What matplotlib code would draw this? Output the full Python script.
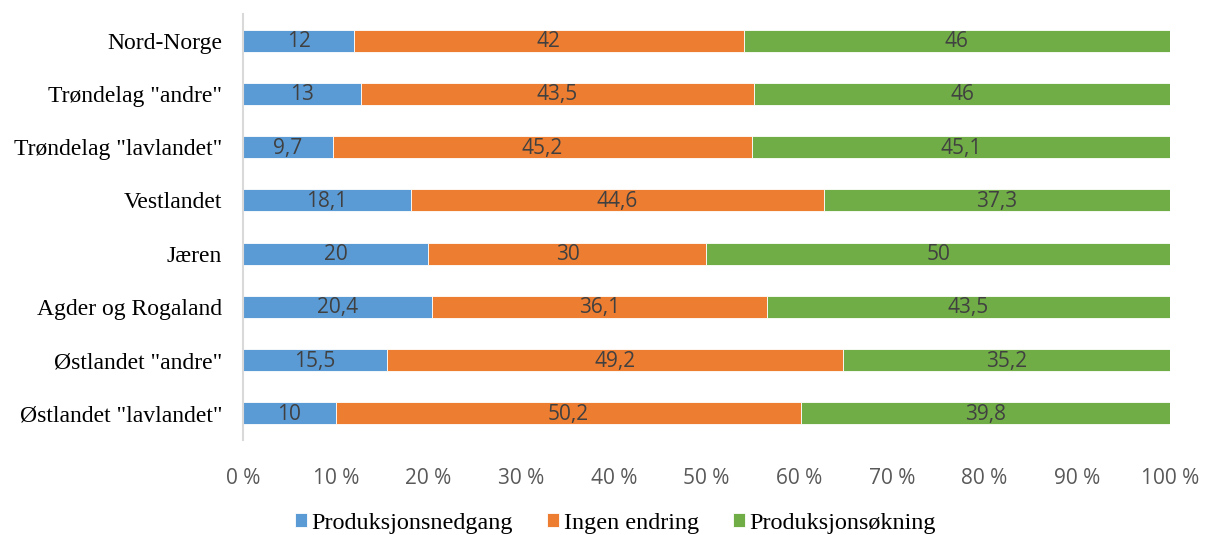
import matplotlib
matplotlib.use("Agg")
import matplotlib.pyplot as plt
import numpy as np

regions = ['Nord-Norge', 'Trøndelag "andre"', 'Trøndelag "lavlandet"', 'Vestlandet',
           'Jæren', 'Agder og Rogaland', 'Østlandet "andre"', 'Østlandet "lavlandet"']
nedgang = [12, 13, 9.7, 18.1, 20, 20.4, 15.5, 10]
ingen = [42, 43.5, 45.2, 44.6, 30, 36.1, 49.2, 50.2]
okning = [46, 46, 45.1, 37.3, 50, 43.5, 35.2, 39.8]
series_names = ['Produksjonsnedgang', 'Ingen endring', 'Produksjonsøkning']
colors = ['#5B9BD5', '#ED7D31', '#70AD47']
ticks = [0, 10, 20, 30, 40, 50, 60, 70, 80, 90, 100]

serif = 'Liberation Serif'
sans = 'Open Sans'

fig = plt.figure(figsize=(12.09, 5.35), dpi=100)
ax = fig.add_axes([0.201, 0.1776, 0.7667, 0.7962])

data = np.array([nedgang, ingen, okning], dtype=float)
totals = data.sum(axis=0)
shares = data / totals * 100
y = np.arange(len(regions))

left = np.zeros(len(regions))
handles = []
for vals, pct, name, col in zip(data, shares, series_names, colors):
    bars = ax.barh(y, pct, left=left, height=0.41, color=col, edgecolor='white',
                   linewidth=0.6, label=name)
    handles.append(bars)
    for yi, l, w, v in zip(y, left, pct, vals):
        txt = ('%g' % v).replace('.', ',')
        ax.text(l + w / 2, yi + 0.02, txt, ha='center', va='center', color='#404040',
                fontsize=15, family=sans)
    left += pct

ax.set_xlim(0, 100)
ax.set_ylim(len(regions) - 0.5, -0.5)
ax.set_yticks(y)
ax.set_yticklabels(regions, family=serif, fontsize=17, color='black')
ax.set_xticks(ticks)
ax.set_xticklabels(['%d %%' % t for t in ticks], family=sans, fontsize=15, color='#595959')
ax.tick_params(axis='both', length=0)
ax.tick_params(axis='y', pad=15)
ax.tick_params(axis='x', pad=20)
for s in ['top', 'right', 'bottom']:
    ax.spines[s].set_visible(False)
ax.spines['left'].set_color('#D9D9D9')
ax.spines['left'].set_linewidth(1.5)

fig.legend(handles=handles, labels=series_names, loc='center',
           bbox_to_anchor=(0.509, 0.022), ncol=3, frameon=False,
           prop={'family': serif, 'size': 17.4}, handlelength=0.5, handleheight=0.5,
           handletextpad=0.2, columnspacing=1.4, borderpad=0)

fig.savefig('out.png', dpi=100)
